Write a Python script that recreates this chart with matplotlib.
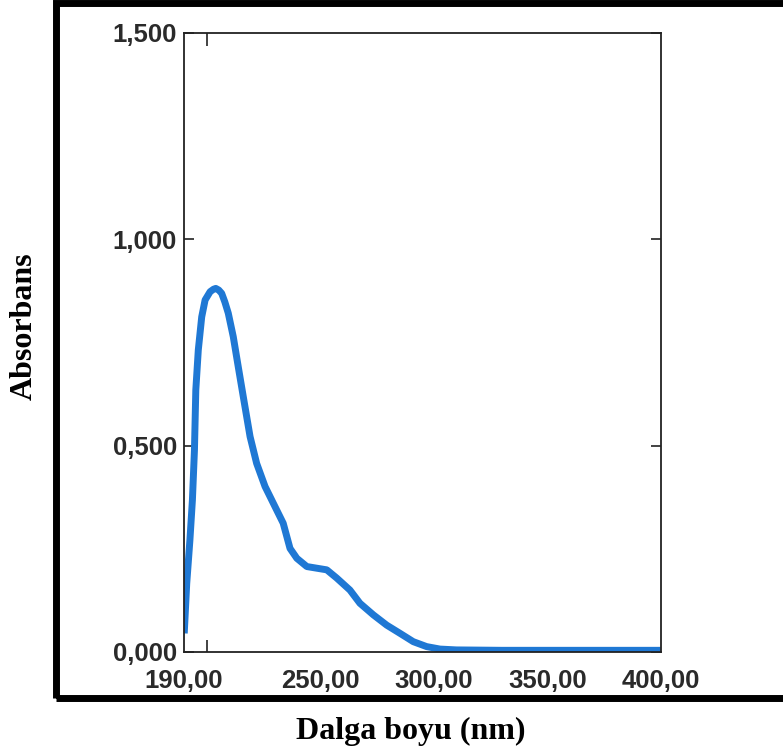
import numpy as np
import matplotlib
matplotlib.use('Agg')
from matplotlib import pyplot as plt
from matplotlib.patches import Rectangle

# spektrum noktalari
dalga = [190.1, 191.2, 192.6, 193.7, 194.6, 195.2, 196.3, 197.8, 199.3, 201.5,
         203.0, 204.0, 205.3, 206.6, 208.0, 209.5, 211.7, 213.9, 216.1, 219.1,
         222.0, 225.7, 230.1, 233.7, 236.7, 239.7, 244.1, 248.5, 252.9, 257.3,
         263.1, 267.5, 273.4, 279.3, 285.2, 291.0, 296.9, 302.8, 310.0, 330.0,
         360.0, 390.0, 400.0]
absorbans = [0.045, 0.166, 0.271, 0.368, 0.489, 0.635, 0.732, 0.812, 0.853, 0.873,
             0.879, 0.881, 0.877, 0.869, 0.848, 0.821, 0.764, 0.691, 0.619, 0.522,
             0.457, 0.401, 0.352, 0.312, 0.251, 0.227, 0.207, 0.203, 0.199, 0.179,
             0.150, 0.118, 0.090, 0.065, 0.045, 0.025, 0.013, 0.007, 0.005, 0.004,
             0.004, 0.004, 0.004]

x_etiket = [190, 250, 300, 350, 400]
x_etiket_yazi = ['190,00', '250,00', '300,00', '350,00', '400,00']
x_cizgi = [200, 250, 300, 350]
y_etiket = [0, 0.5, 1.0, 1.5]
y_etiket_yazi = ['0,000', '0,500', '1,000', '1,500']

fig = plt.figure(figsize=(7.83, 7.56), dpi=100)
ax = fig.add_axes([0.235, 0.1376, 0.6088, 0.8188])

ax.plot(dalga, absorbans, color='#1f78d4', lw=5, solid_capstyle='butt',
        solid_joinstyle='round')

ax.set_xlim(190, 400)
ax.set_ylim(0, 1.5)

ax.set_xticks(x_etiket)
ax.set_xticklabels(x_etiket_yazi)
ax.set_xticks(x_cizgi, minor=True)
ax.tick_params(axis='x', which='major', length=0, pad=12)
ax.tick_params(axis='x', which='minor', direction='in', length=9, width=1.2,
               top=True, bottom=True, color='#222222')

ax.set_yticks(y_etiket)
ax.set_yticklabels(y_etiket_yazi)
ax.tick_params(axis='y', direction='in', length=7, width=1.2, right=True,
               pad=5, color='#222222')

for lab in ax.get_xticklabels() + ax.get_yticklabels():
    lab.set_family('Liberation Sans')
    lab.set_fontsize(18.5)
    lab.set_fontweight('bold')
    lab.set_color('#2a2a2a')

for s in ax.spines.values():
    s.set_linewidth(1.3)
    s.set_color('#222222')

# kalin siyah cerceve
fig.patches.append(Rectangle((0.0715, 0.0767), 1.0, 0.9187, transform=fig.transFigure,
                             fill=False, lw=5, edgecolor='black', clip_on=False))

fig.text(0.031, 0.569, 'Absorbans', rotation=90, ha='center', va='center',
         family='Liberation Serif', fontweight='bold', fontsize=23)
fig.text(0.525, 0.033, 'Dalga boyu (nm)', ha='center', va='center',
         family='Liberation Serif', fontweight='bold', fontsize=23)

plt.savefig('out.png', dpi=100)
